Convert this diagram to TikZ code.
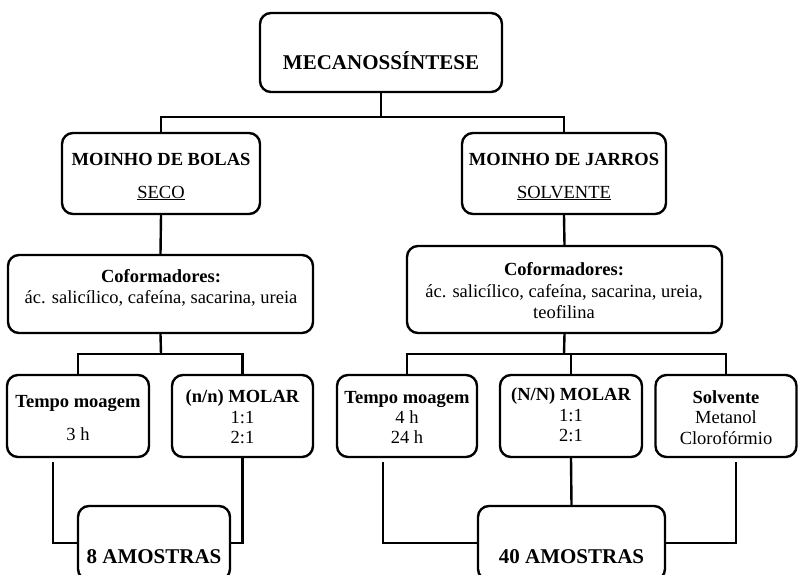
\documentclass[tikz,border=0pt]{standalone}
\usepackage{fontspec}
\setmainfont{Liberation Serif}
\begin{document}
\begin{tikzpicture}[x=1pt,y=-1pt,
  box/.style={draw, line width=2.4pt, rounded corners=11pt, inner sep=0pt},
  conn/.style={line width=2.4pt},
  t/.style={anchor=base, inner sep=0pt, font=\fontsize{18.5}{21}\selectfont},
  tb/.style={anchor=base, inner sep=0pt, font=\fontsize{18.5}{21}\selectfont\bfseries},
  tbig/.style={anchor=base, inner sep=0pt, font=\fontsize{21}{24}\selectfont\bfseries}]
\useasboundingbox (0,0) rectangle (798,575);
\clip (0,0) rectangle (798,575);
% boxes
\node[box, minimum width=242pt, minimum height=79pt] (top) at (381,52.5) {};
\node[box, minimum width=198pt, minimum height=81pt] (mb) at (161,173.5) {};
\node[box, minimum width=204pt, minimum height=81pt] (mj) at (564,173.5) {};
\node[box, minimum width=305pt, minimum height=78pt] (cl) at (160.5,294) {};
\node[box, minimum width=315pt, minimum height=87pt] (cr) at (564.5,289.5) {};
\node[box, minimum width=142pt, minimum height=82pt] (tl) at (78,416) {};
\node[box, minimum width=141pt, minimum height=82pt] (nl) at (242.5,416) {};
\node[box, minimum width=140pt, minimum height=82pt] (tr) at (407,416) {};
\node[box, minimum width=142pt, minimum height=82pt] (nr) at (571,416) {};
\node[box, minimum width=141pt, minimum height=82pt] (sr) at (726,416) {};
\node[box, minimum width=152pt, minimum height=74pt] (a8) at (154,543) {};
\node[box, minimum width=187pt, minimum height=74pt] (a40) at (571.5,543) {};
% texts
\node[tbig] (t0) at (381,70) {MECANOSSÍNTESE};
\node[tb] (t1) at (161,165) {MOINHO DE BOLAS};
\node[t] (t2) at (161,198) {\underline{SECO}};
\node[tb] (t3) at (564,165) {MOINHO DE JARROS};
\node[t] (t4) at (564,198) {\underline{SOLVENTE}};
\node[tb] (t5) at (161,282) {Coformadores:};
\node[t] (t6) at (161,303) {ác. salicílico, cafeína, sacarina, ureia};
\node[tb] (t7) at (564,275) {Coformadores:};
\node[t] (t8) at (564,297) {ác. salicílico, cafeína, sacarina, ureia,};
\node[t] (t9) at (564,318) {teofilina};
\node[tb] (t10) at (78,407) {Tempo moagem};
\node[t] (t11) at (78,440) {3 h};
\node[tb] (t12) at (242.5,402) {(n/n) MOLAR};
\node[t] (t13) at (242.5,423) {1:1};
\node[t] (t14) at (242.5,443) {2:1};
\node[tb] (t15) at (407,403) {Tempo moagem};
\node[t] (t16) at (407,423) {4 h};
\node[t] (t17) at (407,443) {24 h};
\node[tb] (t18) at (571,400) {(N/N) MOLAR};
\node[t] (t19) at (571,421) {1:1};
\node[t] (t20) at (571,441) {2:1};
\node[tb] (t21) at (726,403) {Solvente};
\node[t] (t22) at (726,423) {Metanol};
\node[t] (t23) at (726,444) {Clorofórmio};
\node[tbig] (t24) at (154,563) {8 AMOSTRAS};
\node[tbig] (t25) at (571.5,563) {40 AMOSTRAS};
% junctions
\coordinate (j1) at (381,117);
\coordinate (j2) at (161,354);
\coordinate (j3) at (564,354);
% connectors
\draw[conn] (top.south) -- (j1);
\draw[conn] (mb.north) |- (j1) -| (mj.north);
\draw[conn] (mb.south) -- (cl.north);
\draw[conn] (mj.south) -- (cr.north);
\draw[conn] (cl.south) -- (j2);
\draw[conn] (tl.north) |- (j2) -| (nl.north);
\draw[conn] (cr.south) -- (j3);
\draw[conn] (tr.north) |- (j3) -| (sr.north);
\draw[conn] (nr.north) -- (nr.north |- j3);
\draw[conn] ([xshift=-25pt,yshift=-4pt]tl.south) |- (a8.west);
\draw[conn] (nl.south) |- (a8.east);
\draw[conn] ([xshift=-24pt,yshift=-4pt]tr.south) |- (a40.west);
\draw[conn] (nr.south) -- (a40.north);
\draw[conn] ([xshift=10pt,yshift=-4pt]sr.south) |- (a40.east);
\end{tikzpicture}
\end{document}
